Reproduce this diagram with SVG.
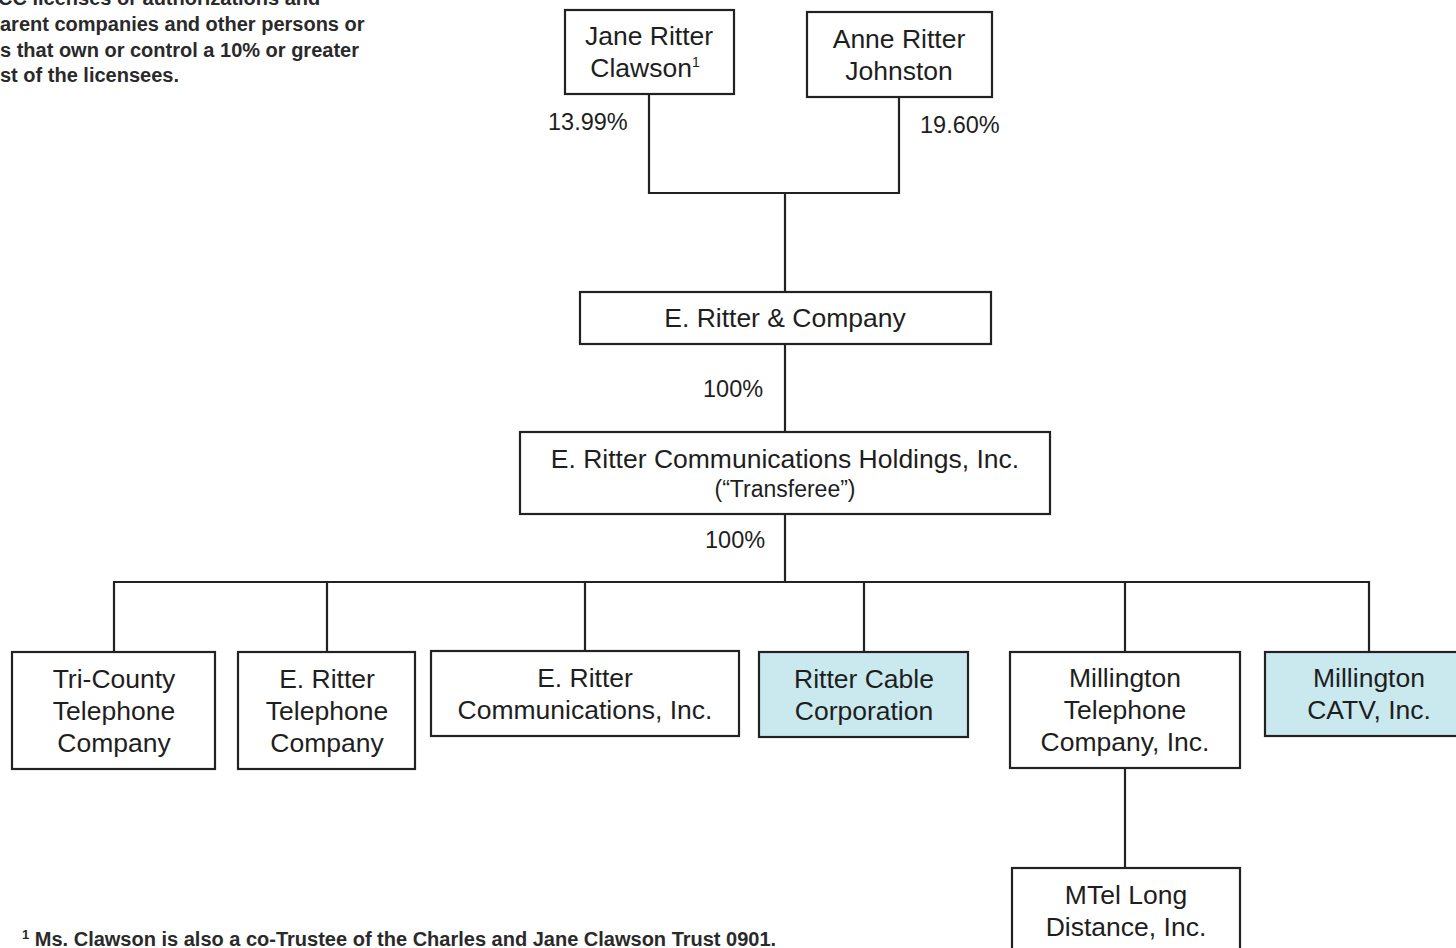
<svg xmlns="http://www.w3.org/2000/svg" width="1456" height="948" viewBox="0 0 1456 948">
<style>
text{font-family:"Liberation Sans",Arial,sans-serif;fill:#1e1e1e}
.n{font-size:26.5px;text-anchor:middle}
.s{font-size:23px;text-anchor:middle}
.p{font-size:23.5px}
.note{font-size:20px;font-weight:bold;fill:#2a2a2a}
rect{fill:#fff;stroke:#222;stroke-width:2.2}
rect.b{fill:#c9e9ef}
.c path{fill:none;stroke:#222;stroke-width:2.2}
</style>
<rect x="0" y="0" width="1456" height="948" style="stroke:none;fill:#fff"/>
<g id="intro">
<text class="note" x="-2" y="5">CC licenses or authorizations and</text>
<text class="note" x="0" y="31">arent companies and other persons or</text>
<text class="note" x="0" y="57">s that own or control a 10% or greater</text>
<text class="note" x="0" y="82">st of the licensees.</text>
</g>
<g class="c" id="connectors">
<path d="M649 94V193H899V97"/>
<path d="M785 193V292"/>
<path d="M785 344V432"/>
<path d="M785 514V582"/>
<path d="M114 652V582H1369V652"/>
<path d="M327 582V652M585 582V651M864 582V652M1125 582V652"/>
<path d="M1125 768V868"/>
</g>
<g id="labels">
<text class="p" x="548" y="130">13.99%</text>
<text class="p" x="920" y="133">19.60%</text>
<text class="p" x="703" y="397">100%</text>
<text class="p" x="705" y="548">100%</text>
</g>
<g id="jane">
<rect x="565" y="10" width="169" height="84"/>
<text class="n" x="649" y="45">Jane Ritter</text>
<text class="n" x="645" y="77">Clawson<tspan font-size="14" dy="-10">1</tspan></text>
</g>
<g id="anne">
<rect x="807" y="12" width="185" height="85"/>
<text class="n" x="899" y="48">Anne Ritter</text>
<text class="n" x="899" y="80">Johnston</text>
</g>
<g id="eritterco">
<rect x="580" y="292" width="411" height="52"/>
<text class="n" x="785" y="327">E. Ritter &amp; Company</text>
</g>
<g id="holdings">
<rect x="520" y="432" width="530" height="82"/>
<text class="n" x="785" y="468">E. Ritter Communications Holdings, Inc.</text>
<text class="s" x="785" y="497">(“Transferee”)</text>
</g>
<g id="tricounty">
<rect x="12" y="652" width="203" height="117"/>
<text class="n" x="114" y="688">Tri-County</text>
<text class="n" x="114" y="720">Telephone</text>
<text class="n" x="114" y="752">Company</text>
</g>
<g id="erittertel">
<rect x="238" y="652" width="177" height="117"/>
<text class="n" x="327" y="688">E. Ritter</text>
<text class="n" x="327" y="720">Telephone</text>
<text class="n" x="327" y="752">Company</text>
</g>
<g id="erittercomm">
<rect x="431" y="651" width="308" height="85"/>
<text class="n" x="585" y="687">E. Ritter</text>
<text class="n" x="585" y="719">Communications, Inc.</text>
</g>
<g id="rittercable">
<rect class="b" x="759" y="652" width="209" height="85"/>
<text class="n" x="864" y="688">Ritter Cable</text>
<text class="n" x="864" y="720">Corporation</text>
</g>
<g id="millingtontel">
<rect x="1010" y="652" width="230" height="116"/>
<text class="n" x="1125" y="687">Millington</text>
<text class="n" x="1125" y="719">Telephone</text>
<text class="n" x="1125" y="751">Company, Inc.</text>
</g>
<g id="millingtoncatv">
<rect class="b" x="1265" y="652" width="215" height="84"/>
<text class="n" x="1369" y="687">Millington</text>
<text class="n" x="1369" y="719">CATV, Inc.</text>
</g>
<g id="mtel">
<rect x="1012" y="868" width="228" height="100"/>
<text class="n" x="1126" y="904">MTel Long</text>
<text class="n" x="1126" y="936">Distance, Inc.</text>
</g>
<g id="footnote">
<text class="note" x="22" y="946"><tspan font-size="13" dy="-7">1</tspan><tspan dy="7"> Ms. Clawson is also a co-Trustee of the Charles and Jane Clawson Trust 0901.</tspan></text>
</g>
</svg>
